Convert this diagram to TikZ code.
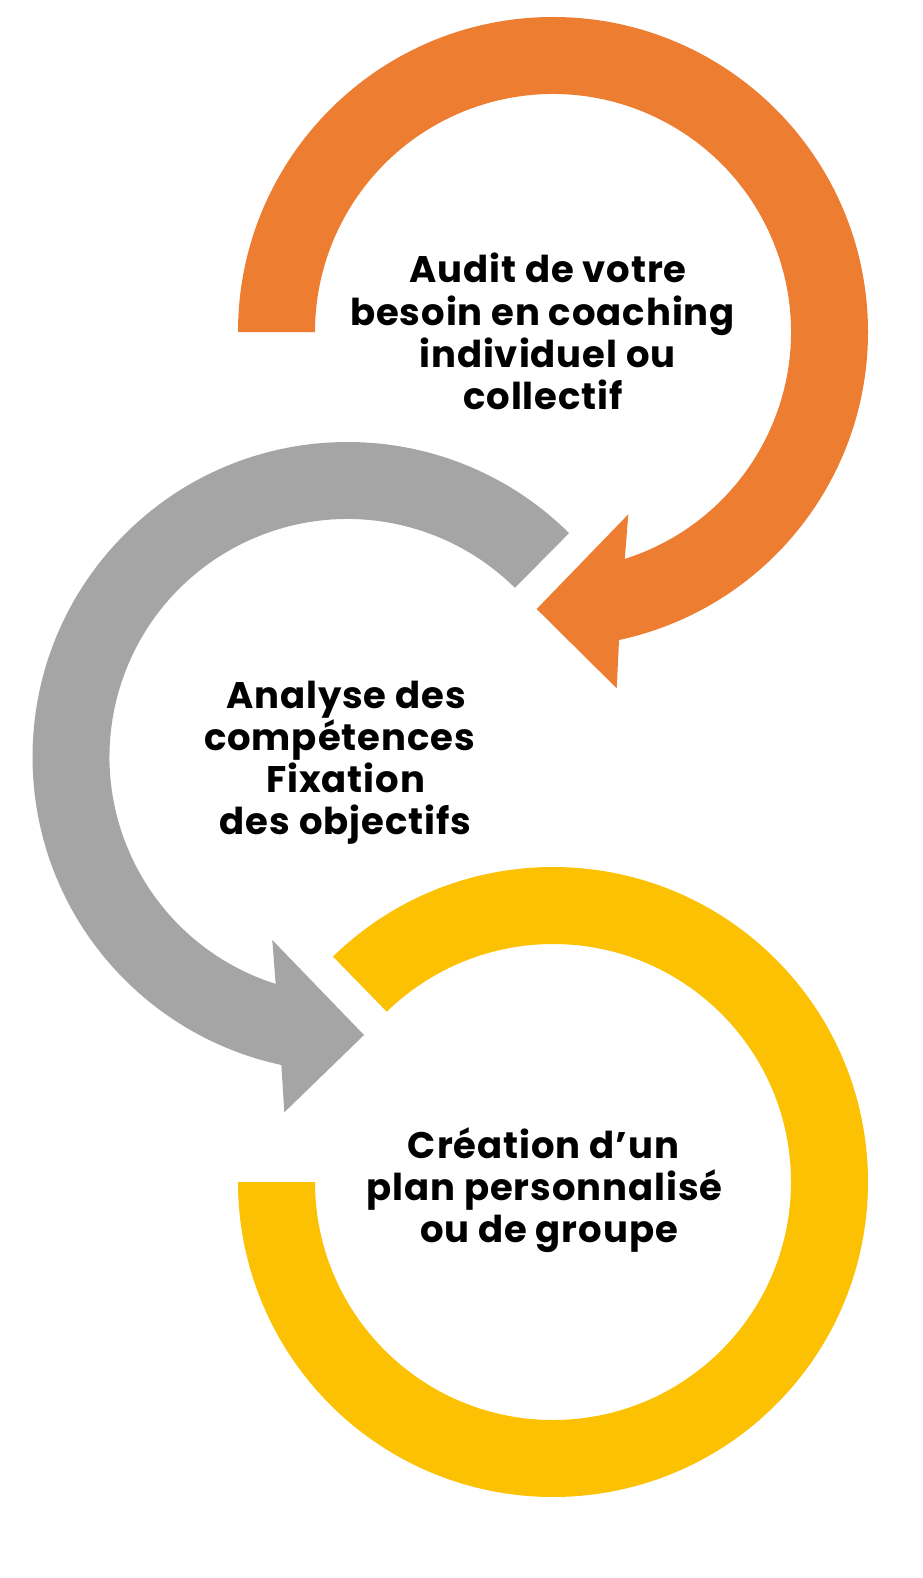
\documentclass[tikz,border=0pt]{standalone}
\usepackage{fontspec}
\setmainfont{Poppins}[LetterSpace=2.5]
\definecolor{orangeC}{RGB}{237,125,49}
\definecolor{grayC}{RGB}{165,165,165}
\definecolor{yellowC}{RGB}{251,193,2}
\begin{document}
\begin{tikzpicture}[x=1pt,y=-1pt,
  lbl/.style={anchor=base, inner sep=0pt, font=\fontsize{37}{42}\selectfont\bfseries, text=black}]
\useasboundingbox (0,0) rectangle (922,1578);
\fill[white] (0,0) rectangle (922,1578);
% centres
\coordinate (O) at (553,332);
\coordinate (G) at (347.5,757);
\coordinate (Y) at (553,1182);
% orange arrow head
\coordinate (oBa) at (628.3,514.3);
\coordinate (oTip) at (536.7,609);
\coordinate (oBb) at (616.7,688.3);
% gray arrow head
\coordinate (gBa) at (272.3,940);
\coordinate (gTip) at (364,1035);
\coordinate (gBb) at (284.3,1112.3);
% orange ring
\fill[orangeC] ([shift={(O)}]180:315) arc[start angle=180,end angle=437.9,radius=315]
  -- (oBb) -- (oTip) -- (oBa) -- ([shift={(O)}]72.45:238)
  arc[start angle=72.45,end angle=-180,radius=238] -- cycle;
% gray ring
\fill[grayC] ([shift={(G)}]-45.3:315) arc[start angle=-45.3,end angle=-257.88,radius=315]
  -- (gBb) -- (gTip) -- (gBa) -- ([shift={(G)}]-252.43:238)
  arc[start angle=-252.43,end angle=-45.3,radius=238] -- cycle;
% yellow ring
\fill[yellowC] ([shift={(Y)}]-134.3:315) arc[start angle=-134.3,end angle=180,radius=315]
  -- ([shift={(Y)}]180:238) arc[start angle=180,end angle=-134.3,radius=238] -- cycle;
% texts
\node[lbl] (a1) at (548,283) {Audit de votre};
\node[lbl] (a2) at (542.5,325) {besoin en coaching};
\node[lbl] (a3) at (547.5,367) {individuel ou};
\node[lbl] (a4) at (543,409) {collectif};
\node[lbl] (b1) at (346,708) {Analyse des};
\node[lbl] (b2) at (339.5,750) {compétences};
\node[lbl] (b3) at (345.5,792) {Fixation};
\node[lbl] (b4) at (345.5,834) {des objectifs};
\node[lbl] (c1) at (543.5,1158) {Création d’un};
\node[lbl] (c2) at (544.5,1200) {plan personnalisé};
\node[lbl] (c3) at (549,1242) {ou de groupe};
\end{tikzpicture}
\end{document}
